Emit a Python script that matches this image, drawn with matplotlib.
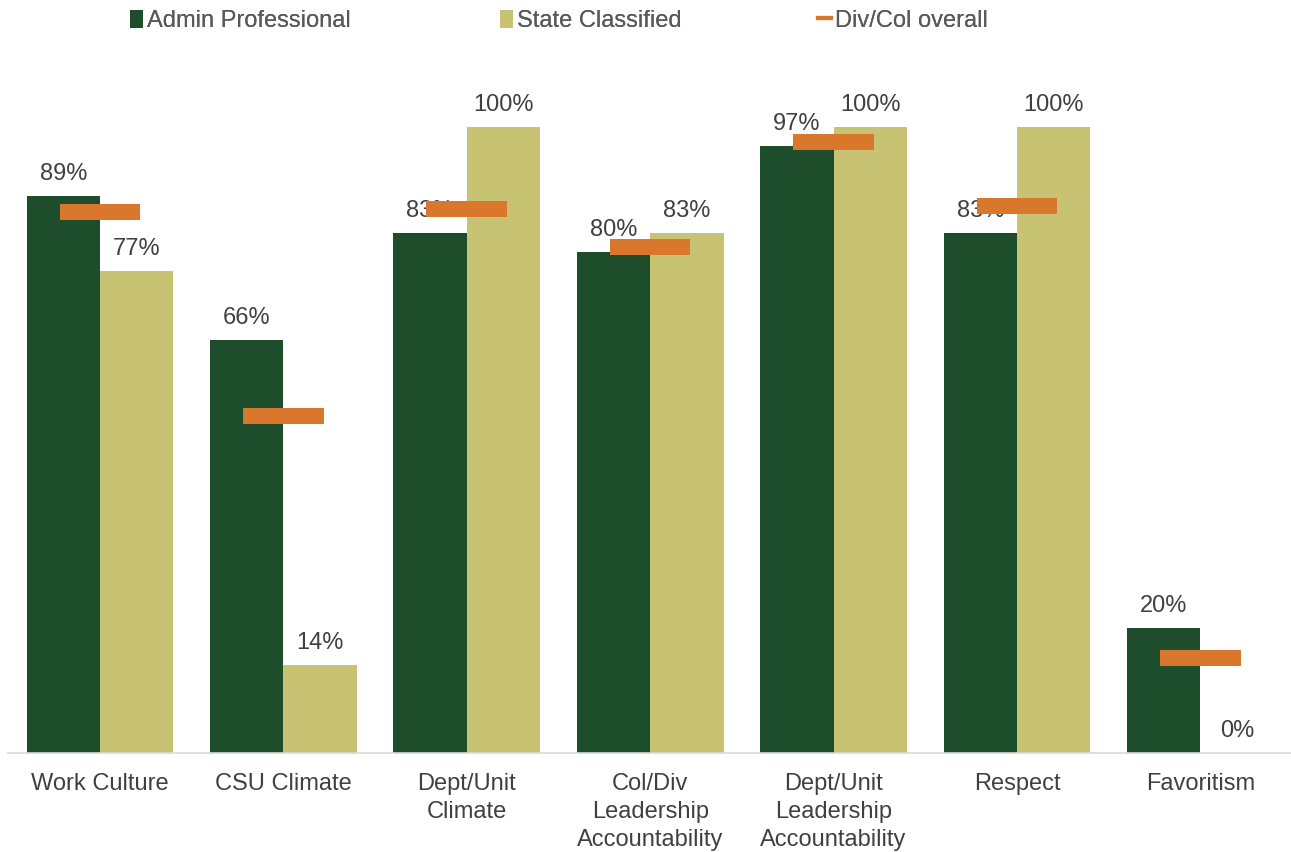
import matplotlib.pyplot as plt
from matplotlib.patches import Patch
from matplotlib.lines import Line2D
import numpy as np

plt.rcParams['font.family'] = ['Liberation Sans', 'DejaVu Sans']

# ─── DATA ────────────────────────────────────────────────
categories = ["Work Culture", "CSU Climate", "Dept/Unit\nClimate",
              "Col/Div\nLeadership\nAccountability",
              "Dept/Unit\nLeadership\nAccountability", "Respect", "Favoritism"]
admin_prof = [0.89, 0.66, 0.83, 0.80, 0.97, 0.83, 0.20]
state_class = [0.77, 0.14, 1.00, 0.83, 1.00, 1.00, 0.00]
divcol_overall = [0.864, 0.538, 0.869, 0.808, 0.976, 0.874, 0.152]

DARK = "#1e4d2b"
LIGHT = "#c8c372"
ORANGE = "#d9782d"
TXT = "#404040"
FS = 17

fig = plt.figure(figsize=(12.91, 8.52), dpi=100)
ax = fig.add_axes([0.0064, 0.1162, 0.9944, 0.8082])

x = np.arange(len(categories))
w = 0.4
ax.bar(x - w / 2, admin_prof, width=w, color=DARK, zorder=2)
ax.bar(x + w / 2, state_class, width=w, color=LIGHT, zorder=2)

# overall marker drawn as a thin bar
mh = 0.0255
ax.bar(x, [mh] * len(x), bottom=np.array(divcol_overall) - mh / 2,
       width=0.44, color=ORANGE, zorder=4)

for xi, v in zip(x - w / 2, admin_prof):
    ax.annotate(f"{v:.0%}", (xi, v), xytext=(0, 8), textcoords="offset points",
                ha="center", va="bottom", fontsize=FS, color=TXT, zorder=3)
for xi, v in zip(x + w / 2, state_class):
    ax.annotate(f"{v:.0%}", (xi, v), xytext=(0, 8), textcoords="offset points",
                ha="center", va="bottom", fontsize=FS, color=TXT, zorder=3)

ax.set_xlim(-0.5, len(x) - 0.5)
ax.set_ylim(0, 1.1)
ax.set_yticks([])
ax.set_xticks(x)
ax.set_xticklabels(categories, fontsize=FS, color=TXT, linespacing=1.35)
ax.tick_params(axis="x", length=0, pad=14.5)
for s in ["top", "right", "left"]:
    ax.spines[s].set_visible(False)
ax.spines["bottom"].set_color("#d9d9d9")
ax.spines["bottom"].set_linewidth(1.2)

# legend entries placed one by one, like the original
legend_items = [
    (Patch(facecolor=DARK), "Admin Professional", 130),
    (Patch(facecolor=LIGHT), "State Classified", 500),
    (Line2D([0], [0], color=ORANGE, lw=3), "Div/Col overall", 818),
]
for h, lbl, px in legend_items:
    lg = fig.legend([h], [lbl], loc="center left", bbox_to_anchor=(px / 1291, 1 - 21 / 852),
                    frameon=False, fontsize=FS, labelcolor="#595959", handlelength=0.55,
                    handleheight=0.8, handletextpad=0.15, borderpad=0, borderaxespad=0)
    fig.add_artist(lg)

fig.savefig("out.png", dpi=100)
